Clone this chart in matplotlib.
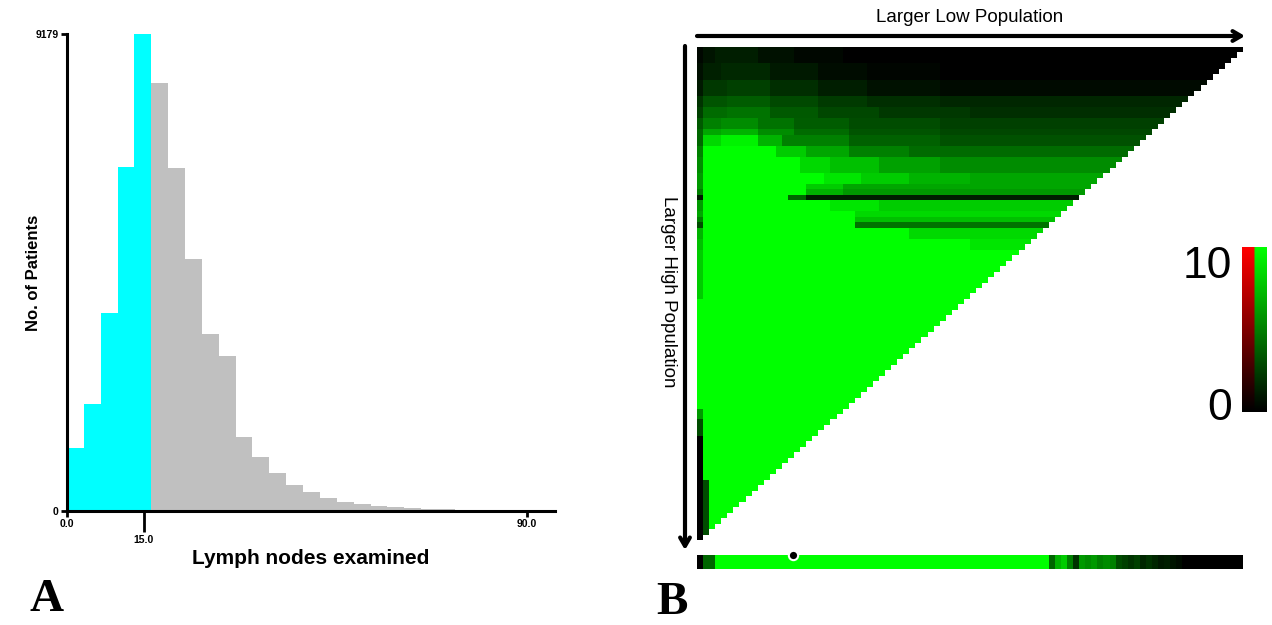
import numpy as np
import matplotlib.pyplot as plt
from matplotlib.colors import LinearSegmentedColormap

W, H = 1272, 625

# ---- panel A: histogram of lymph nodes examined ----
bin_width = 3.3
patient_counts = [1215, 2063, 3818, 6614, 9179, 8234, 6595, 4840, 3413, 2989,
                  1427, 1041, 733, 501, 366, 251, 174, 135, 96, 77,
                  60, 45, 35, 25, 20, 15, 12, 10]
n_low_bins = 5          # bins below the 15 cut-off (cyan)
y_max = 9179
x_major = [0, 90]
x_major_labels = ['0.0', '90.0']
x_cut = 15
x_cut_label = '15.0'

# ---- panel B: heat map (value 0-10), upper-left triangle ----
N = 90
# (first_row, last_row, [(value, end_col), ...]); last run fills the row
row_runs = [
    (0, 2,   [(0.3, 1), (0.8, 3), (1.2, 10), (0.7, 16), (0.3, 24), (0, N)]),
    (3, 5,   [(0.6, 1), (1.3, 4), (1.6, 12), (1.0, 20), (0.5, 28), (0.2, 40), (0, N)]),
    (6, 8,   [(1, 1), (2.2, 5), (2.5, 12), (1.8, 20), (1.2, 28), (0.7, 40), (0.4, N)]),
    (9, 10,  [(2, 1), (3.3, 5), (3.6, 12), (2.9, 20), (2.3, 28), (1.8, 40), (1.5, N)]),
    (11, 12, [(2.5, 1), (4.2, 5), (4.5, 12), (3.5, 20), (2.8, 30), (2.2, 45), (1.8, N)]),
    (13, 14, [(3.5, 1), (5, 4), (5.5, 10), (4.5, 16), (3.6, 25), (3, 40), (2.5, N)]),
    (15, 15, [(4, 1), (6.5, 4), (7, 10), (5.5, 16), (4.2, 25), (3.3, 40), (2.8, N)]),
    (16, 17, [(4, 1), (8.5, 4), (9.5, 10), (7, 14), (5, 25), (3.8, 40), (3.2, N)]),
    (18, 19, [(5, 1), (10, 13), (8, 18), (6.5, 25), (5, 35), (4.2, N)]),
    (20, 22, [(5.5, 1), (10, 17), (8.5, 22), (7.5, 30), (6.3, 40), (5.5, N)]),
    (23, 24, [(6, 1), (10, 21), (9, 27), (8, 35), (7, 45), (6.5, N)]),
    (25, 25, [(6, 1), (10, 18), (8, 24), (6.5, N)]),
    (26, 26, [(5, 1), (10, 18), (7, 24), (6, N)]),
    (27, 27, [(1, 1), (10, 15), (4, 18), (1.2, N)]),
    (28, 29, [(6, 1), (10, 22), (9, 30), (8, N)]),
    (30, 30, [(6.5, 1), (10, 26), (8.5, N)]),
    (31, 31, [(5, 1), (10, 26), (7.5, N)]),
    (32, 32, [(3, 1), (10, 26), (4.5, N)]),
    (33, 34, [(7, 1), (10, 35), (8.5, N)]),
    (35, 36, [(7.5, 1), (10, 45), (9, N)]),
    (37, 45, [(8, 1), (10, N)]),
    (46, 65, [(10, N)]),
    (66, 67, [(6, 1), (10, N)]),
    (68, 70, [(3, 1), (10, N)]),
    (71, 78, [(0, 1), (10, N)]),
    (79, 89, [(0, 1), (3, 2), (10, N)]),
]
strip_values = ([0, 4, 4] + [10] * 55 +
                [4, 7, 8, 5, 2, 6, 5.5, 6, 5, 5.5, 5,
                 3, 2.5, 2, 2.5, 1.5, 2, 1.5, 1, 1.2, 0.8, 0.5] + [0] * 10)
marker_col = 15.3
scale_ticks = [0, 10]


def px_axes(l, t, r, b):
    return fig.add_axes([l / W, 1 - b / H, (r - l) / W, (b - t) / H])


fig = plt.figure(figsize=(W / 100, H / 100), dpi=100)
sans = 'Liberation Sans'

# ---------------- panel A ----------------
ax = px_axes(67, 34, 555, 511)
edges = np.arange(len(patient_counts)) * bin_width
colors = ['#00ffff'] * n_low_bins + ['#c0c0c0'] * (len(patient_counts) - n_low_bins)
ax.bar(edges, patient_counts, width=bin_width, align='edge', color=colors, linewidth=0)
ax.set_xlim(0, 95.5)
ax.set_ylim(0, y_max)
for s in ['top', 'right']:
    ax.spines[s].set_visible(False)
for s in ['left', 'bottom']:
    ax.spines[s].set_linewidth(2.2)
ax.set_yticks([0, y_max])
ax.set_yticklabels(['0', str(y_max)], fontsize=7.5, fontweight='bold', family=sans)
ax.set_xticks(x_major)
ax.set_xticklabels(x_major_labels, fontsize=7.5, fontweight='bold', family=sans)
ax.set_xticks([x_cut], minor=True)
ax.set_xticklabels([x_cut_label], minor=True, fontsize=7.5, fontweight='bold', family=sans)
ax.tick_params(axis='both', which='major', length=4, width=2, pad=2)
ax.tick_params(axis='x', which='minor', length=15, width=2, pad=2)
ax.set_xlabel('Lymph nodes examined', fontsize=15, fontweight='bold', family=sans, labelpad=3)
ax.set_ylabel('No. of Patients', fontsize=12, fontweight='bold', family=sans, labelpad=-4)

# ---------------- panel B ----------------
green = LinearSegmentedColormap.from_list('kg', ['black', '#00ff00'])
green.set_bad('white')
red = LinearSegmentedColormap.from_list('kr', ['black', '#ff0000'])

M = np.full((N, N), np.nan)
for r0, r1, runs in row_runs:
    for r in range(r0, r1 + 1):
        start = 0
        for v, end in runs:
            M[r, start:end] = v
            start = end
        M[r, N - r:] = np.nan

axh = px_axes(697, 47, 1243, 540)
axh.imshow(M, cmap=green, vmin=0, vmax=10, aspect='auto', interpolation='nearest')
axh.axis('off')

axs = px_axes(697, 555, 1243, 569)
axs.imshow(np.array([strip_values]), cmap=green, vmin=0, vmax=10, aspect='auto',
           interpolation='nearest')
axs.scatter([marker_col], [-0.5], s=45, color='black', edgecolor='white',
            linewidth=1.5, clip_on=False, zorder=5)
axs.axis('off')

# colour scale: red half and green half
axc = px_axes(1242, 247, 1267, 412)
grad = np.linspace(scale_ticks[1], scale_ticks[0], 100)[:, None]
rgb = np.concatenate([red(grad / 10)[:, :, :3]] * 6 + [green(grad / 10)[:, :, :3]] * 6, axis=1)
axc.imshow(rgb, aspect='auto', interpolation='bilinear')
axc.axis('off')

# overlay in pixel coordinates for arrows and labels
ov = fig.add_axes([0, 0, 1, 1], zorder=10)
ov.set_xlim(0, W)
ov.set_ylim(H, 0)
ov.axis('off')
ov.patch.set_alpha(0)

arrow = dict(arrowstyle='->,head_length=0.6,head_width=0.35', lw=3, color='black',
             shrinkA=0, shrinkB=0)
ov.annotate('', xy=(1245, 36), xytext=(697, 36), arrowprops=arrow)
ov.annotate('', xy=(685, 550), xytext=(685, 46), arrowprops=arrow)
ov.text(970, 18, 'Larger Low Population', ha='center', va='center', fontsize=13.5, family=sans)
ov.text(668, 292, 'Larger High Population', ha='center', va='center', fontsize=13.5,
        family=sans, rotation=-90)

ov.text(1232, 267, str(scale_ticks[1]), ha='right', va='center', fontsize=32, family=sans)
ov.text(1232, 408, str(scale_ticks[0]), ha='right', va='center', fontsize=32, family=sans)

ov.text(47, 600, 'A', ha='center', va='center', fontsize=34, fontweight='bold',
        family='Liberation Serif')
ov.text(672, 603, 'B', ha='center', va='center', fontsize=34, fontweight='bold',
        family='Liberation Serif')

fig.savefig('out.png', dpi=100)
